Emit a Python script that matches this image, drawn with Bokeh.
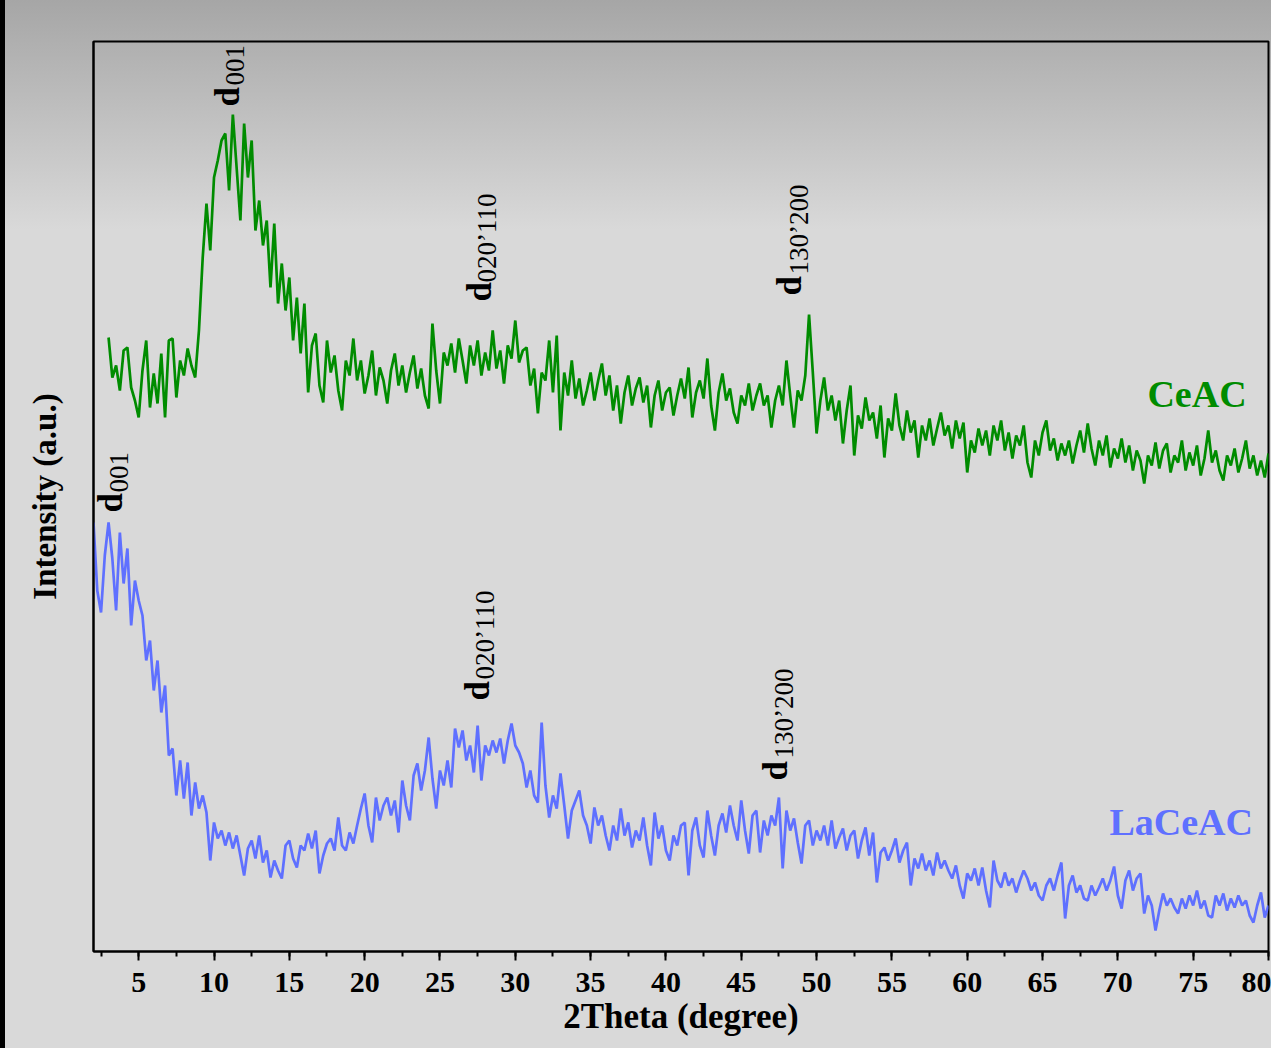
import numpy as np
from bokeh.plotting import figure
from bokeh.models import Range1d, SingleIntervalTicker, FixedTicker, ColumnDataSource
from bokeh.core.properties import value
from bokeh.embed import file_html
from bokeh.resources import INLINE

# ---------------- data ----------------
ce_start, la_start, step = 3.0, 2.0, 0.25

ceac = [
    614, 574, 586, 561, 601, 604, 564, 551, 534, 581, 611, 544, 578, 548, 598, 534, 611, 613, 554, 591,
    576, 603, 586, 574, 621, 694, 748, 701, 774, 791, 811, 818, 761, 837, 784, 731, 828, 774, 811, 721,
    751, 706, 731, 664, 728, 648, 688, 641, 674, 611, 654, 598, 648, 559, 606, 618, 566, 549, 611, 579,
    596, 561, 541, 591, 576, 613, 571, 591, 558, 576, 601, 556, 584, 571, 548, 581, 598, 566, 586, 559,
    579, 596, 563, 583, 556, 543, 628, 581, 548, 599, 586, 608, 579, 613, 591, 568, 606, 586, 611, 576,
    599, 581, 621, 583, 601, 568, 606, 593, 631, 589, 601, 604, 566, 583, 538, 579, 571, 611, 559, 616,
    521, 579, 556, 591, 553, 573, 546, 561, 579, 551, 571, 588, 556, 576, 541, 566, 528, 559, 576, 546,
    563, 574, 549, 566, 524, 556, 571, 541, 559, 564, 536, 556, 573, 553, 584, 534, 559, 571, 553, 593,
    546, 521, 559, 578, 551, 563, 539, 528, 556, 546, 568, 541, 556, 568, 546, 556, 524, 551, 566, 546,
    591, 556, 524, 561, 551, 576, 637, 579, 518, 551, 574, 541, 556, 531, 551, 508, 541, 566, 496, 536,
    523, 554, 531, 539, 513, 546, 494, 533, 521, 558, 526, 511, 541, 519, 531, 494, 526, 511, 533, 506,
    523, 539, 516, 526, 503, 531, 513, 529, 479, 511, 499, 523, 506, 521, 496, 526, 511, 531, 501, 519,
    493, 516, 506, 526, 489, 474, 511, 496, 519, 531, 501, 513, 491, 508, 496, 511, 488, 506, 521, 499,
    528, 503, 486, 511, 496, 516, 484, 503, 493, 513, 489, 506, 481, 501, 491, 468, 496, 486, 509, 483,
    501, 508, 479, 496, 489, 511, 481, 499, 486, 506, 476, 493, 521, 489, 501, 481, 471, 496, 486, 503,
    479, 493, 511, 483, 496, 476, 491, 474, 498,
]

laceac = [
    429, 361, 339, 396, 429, 393, 341, 419, 368, 403, 326, 371, 351, 336, 291, 311, 261, 291, 239, 266,
    196, 203, 156, 191, 153, 189, 136, 169, 143, 156, 139, 91, 129, 113, 121, 106, 119, 103, 116, 96,
    76, 103, 111, 93, 116, 89, 101, 74, 91, 81, 73, 106, 111, 93, 84, 106, 101, 118, 103, 121,
    78, 96, 108, 113, 101, 134, 106, 101, 119, 108, 126, 143, 158, 126, 109, 154, 131, 146, 154, 136,
    151, 119, 171, 146, 131, 176, 188, 161, 181, 214, 173, 143, 181, 166, 191, 164, 223, 204, 221, 191,
    206, 179, 226, 171, 206, 196, 211, 199, 213, 188, 211, 228, 206, 199, 188, 164, 181, 156, 149, 229,
    166, 134, 156, 143, 178, 146, 113, 141, 151, 161, 136, 126, 108, 144, 126, 136, 116, 101, 126, 111,
    143, 116, 129, 104, 121, 111, 134, 106, 86, 139, 113, 126, 101, 91, 116, 106, 126, 129, 76, 121,
    134, 106, 94, 141, 116, 96, 126, 138, 119, 146, 126, 111, 151, 121, 98, 136, 141, 99, 131, 116,
    136, 126, 154, 83, 141, 121, 133, 109, 88, 126, 131, 106, 121, 111, 126, 106, 131, 103, 114, 123,
    101, 116, 121, 93, 111, 124, 96, 119, 69, 99, 104, 91, 101, 113, 89, 101, 109, 66, 93, 83,
    98, 81, 91, 76, 99, 83, 91, 81, 73, 86, 66, 53, 78, 71, 83, 66, 84, 61, 44, 91,
    71, 64, 79, 66, 73, 59, 71, 81, 73, 61, 69, 56, 51, 66, 73, 61, 76, 89, 33, 66,
    76, 59, 66, 53, 51, 66, 56, 64, 73, 61, 71, 85, 56, 43, 71, 81, 61, 73, 78, 38,
    56, 46, 21, 41, 58, 46, 53, 44, 38, 53, 43, 56, 46, 61, 43, 51, 36, 34, 56, 46,
    58, 41, 53, 44, 56, 46, 51, 36, 29, 46, 59, 34, 46,
]

theta_ce = ce_start + step * np.arange(len(ceac))
theta_la = la_start + step * np.arange(len(laceac))

# peak annotations: "d" + subscript
peak_d_x = [10.89, 27.60, 48.22, 3.13, 27.47, 47.29]
peak_d_y = [845, 650, 656, 439, 251, 171]
peak_sub_x = [11.40, 28.10, 48.84, 3.70, 27.98, 47.86]
peak_sub_y = [866, 669, 677, 459, 272, 193]
peak_sub_text = ["001", "020\u2019110", "130\u2019200", "001", "020\u2019110", "130\u2019200"]

series_names = ["CeAC", "LaCeAC"]
series_label_x = [71.96, 69.44]
series_label_y = [558, 130]

x_ticks_interval = 5

GREEN = "#008C00"
BLUE = "#5F70FF"
FONT = "Liberation Serif"

# ---------------- figure ----------------
p = figure(
    width=1271, height=1048,
    x_range=Range1d(2, 80), y_range=Range1d(0, 910),
    output_backend="svg", toolbar_location=None,
    min_border_left=93, min_border_right=3, min_border_top=41, min_border_bottom=97,
)
p.styles = {
    "background": "linear-gradient(to bottom, #a6a6a6 0px, #d9d9d9 230px, #d9d9d9 100%)",
    "box-shadow": "inset 5px 0 0 #000000",
}
p.border_fill_alpha = 0
p.background_fill_alpha = 0
p.outline_line_color = "black"
p.outline_line_width = 2
p.grid.visible = False

p.line(theta_ce, ceac, line_color=GREEN, line_width=2.7)
p.line(theta_la, laceac, line_color=BLUE, line_width=2.7)

# x axis
xa = p.xaxis[0]
xa.ticker = SingleIntervalTicker(interval=x_ticks_interval, num_minor_ticks=2)
xa.axis_line_width = 2
xa.major_tick_line_width = 2
xa.minor_tick_line_width = 2
xa.major_tick_in = 0
xa.major_tick_out = 9
xa.minor_tick_in = 0
xa.minor_tick_out = 5
xa.major_label_standoff = 12
xa.major_label_text_font = FONT
xa.major_label_text_font_style = "bold"
xa.major_label_text_font_size = "30px"
xa.major_label_text_color = "black"
xa.axis_label = "2Theta (degree)"
xa.axis_label_text_font = FONT
xa.axis_label_text_font_style = "bold"
xa.axis_label_text_font_size = "35px"
xa.axis_label_text_color = "black"
xa.axis_label_standoff = 2

# y axis (no ticks)
ya = p.yaxis[0]
ya.ticker = FixedTicker(ticks=[])
ya.axis_line_width = 2
ya.major_tick_line_color = None
ya.minor_tick_line_color = None
ya.major_label_standoff = 0
ya.axis_label = "Intensity (a.u.)"
ya.axis_label_text_font = FONT
ya.axis_label_text_font_style = "bold"
ya.axis_label_text_font_size = "33px"
ya.axis_label_text_color = "black"
ya.axis_label_standoff = 31

# peak labels
p.text(x=peak_d_x, y=peak_d_y, text=["d"] * len(peak_d_x), angle=np.pi / 2,
       text_font=value(FONT), text_font_style="bold", text_font_size="35px",
       text_color="black", text_align="left", text_baseline="alphabetic")
p.text(x=peak_sub_x, y=peak_sub_y, text=peak_sub_text, angle=np.pi / 2,
       text_font=value(FONT), text_font_style="normal", text_font_size="27px",
       text_color="black", text_align="left", text_baseline="alphabetic")

# series names
src = ColumnDataSource(dict(x=series_label_x, y=series_label_y, t=series_names, c=[GREEN, BLUE]))
p.text(x="x", y="y", text="t", text_color="c", source=src,
       text_font=value(FONT), text_font_style="bold", text_font_size="38px",
       text_align="left", text_baseline="alphabetic")

open("out.html", "w").write(file_html(p, INLINE))
